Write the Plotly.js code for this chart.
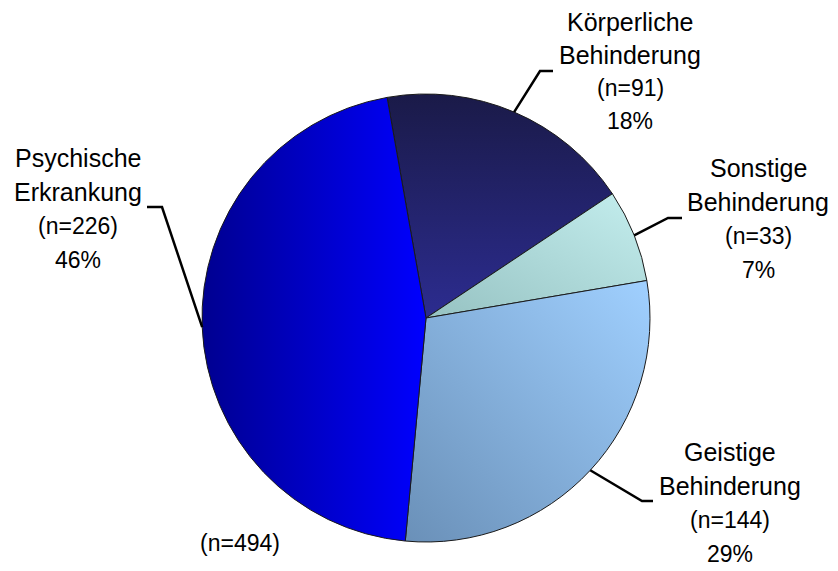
<!DOCTYPE html>
<html>
<head>
<meta charset="utf-8">
<script src="https://cdn.plot.ly/plotly-3.0.1.min.js"></script>
<style>
  html, body { margin: 0; padding: 0; background: #fff; }
  #chart { width: 838px; height: 571px; }
</style>
</head>
<body>
<div id="chart"></div>
<script>
// ---- data ----
const categories = ['Körperliche Behinderung', 'Sonstige Behinderung', 'Geistige Behinderung', 'Psychische Erkrankung'];
const nameLine1 = ['Körperliche', 'Sonstige', 'Geistige', 'Psychische'];
const nameLine2 = ['Behinderung', 'Behinderung', 'Behinderung', 'Erkrankung'];
const counts = [91, 33, 144, 226];
const sliceColors = ['#24246e', '#a6d4d4', '#88b2e0', '#0000c8'];

// ---- layout constants (pixels) ----
const W = 838, H = 571;
const CX = 426, CY = 318, R = 224;
const ROT = -10;
// label block: [center x, first line y, line spacing]
const labelPos = [[630, 22, 33], [758, 168, 34], [730, 452, 34], [78, 158, 34]];
const elbowPos = [[540, 71], [668, 218], [642, 501], [162, 207]];
const endPos = [[553, 71], [682, 218], [653, 501], [147, 207]];
const totalPos = [240, 543];

const total = counts.reduce((a, b) => a + b, 0);
const px = x => x / W;
const py = y => 1 - y / H;

const FONT = 'Liberation Sans, Arial, sans-serif';
const annotations = [];
const shapes = [];
let acc = 0;
counts.forEach((v, i) => {
  const pct = Math.round(v / total * 100) + '%';
  const lines = [
    [nameLine1[i], 25], [nameLine2[i], 25], ['(n=' + v + ')', 23], [pct, 23]
  ];
  const [lx, ly, ls] = labelPos[i];
  lines.forEach((ln, k) => {
    annotations.push({
      xref: 'paper', yref: 'paper', x: px(lx), y: py(ly + k * ls),
      xanchor: 'center', yanchor: 'middle', showarrow: false,
      text: ln[0], font: { family: FONT, size: ln[1], color: '#000' }
    });
  });
  // leader line from slice mid-angle at the pie edge
  const mid = (ROT + (acc + v / 2) / total * 360) * Math.PI / 180;
  acc += v;
  const sx = CX + R * Math.sin(mid), sy = CY - R * Math.cos(mid);
  const [ex, ey] = elbowPos[i];
  const [fx, fy] = endPos[i];
  shapes.push({
    type: 'path', xref: 'paper', yref: 'paper',
    path: `M ${px(sx)} ${py(sy)} L ${px(ex)} ${py(ey)} L ${px(fx)} ${py(fy)}`,
    line: { color: '#000', width: 2.5 }
  });
});
annotations.push({
  xref: 'paper', yref: 'paper', x: px(totalPos[0]), y: py(totalPos[1]),
  xanchor: 'center', yanchor: 'middle', showarrow: false,
  text: '(n=' + total + ')', font: { family: FONT, size: 23, color: '#000' }
});

const trace = {
  type: 'pie',
  labels: categories,
  values: counts,
  sort: false,
  direction: 'clockwise',
  rotation: ROT,
  textinfo: 'none',
  hoverinfo: 'label+value+percent',
  marker: { colors: sliceColors, line: { color: '#1a1a1a', width: 1 } },
  domain: { x: [px(CX - R), px(CX + R)], y: [py(CY + R), py(CY - R)] },
  showlegend: false
};

const layout = {
  width: W, height: H,
  margin: { l: 0, r: 0, t: 0, b: 0 },
  paper_bgcolor: '#fff',
  plot_bgcolor: '#fff',
  showlegend: false,
  annotations: annotations,
  shapes: shapes
};

Plotly.newPlot('chart', [trace], layout, { displayModeBar: false, staticPlot: true }).then(gd => {
  // add shading gradients similar to the reference
  const svg = gd.querySelector('svg.main-svg');
  const NS = 'http://www.w3.org/2000/svg';
  let defs = svg.querySelector('defs');
  if (!defs) { defs = document.createElementNS(NS, 'defs'); svg.insertBefore(defs, svg.firstChild); }
  const grads = [
    [[0, 0, 0, 1], ['#1a1a48', '#2c2c90']],
    [[1, 0, 0, 1], ['#c4eeee', '#96c2c2']],
    [[1, 0, 0, 1], ['#a0d0ff', '#6a90b8']],
    [[0, 0.5, 1, 0.5], ['#000090', '#0000ff']]
  ];
  grads.forEach((g, i) => {
    const lg = document.createElementNS(NS, 'linearGradient');
    lg.setAttribute('id', 'sliceGrad' + i);
    lg.setAttribute('x1', g[0][0]); lg.setAttribute('y1', g[0][1]);
    lg.setAttribute('x2', g[0][2]); lg.setAttribute('y2', g[0][3]);
    g[1].forEach((c, k) => {
      const st = document.createElementNS(NS, 'stop');
      st.setAttribute('offset', k === 0 ? '0' : '1');
      st.setAttribute('stop-color', c);
      lg.appendChild(st);
    });
    defs.appendChild(lg);
  });
  const paths = gd.querySelectorAll('g.slice path.surface');
  paths.forEach((p, i) => { if (i < grads.length) p.style.fill = 'url(#sliceGrad' + i + ')'; });
});
</script>
</body>
</html>
